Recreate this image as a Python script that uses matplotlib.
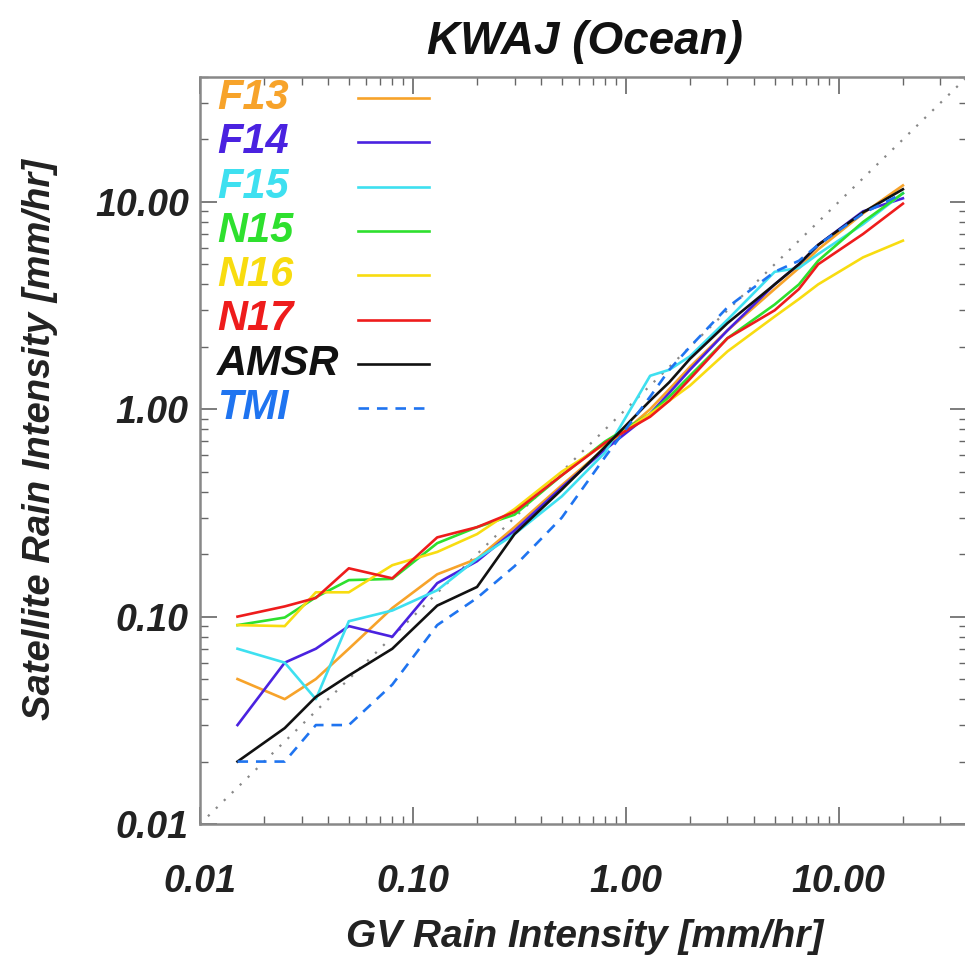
import matplotlib
matplotlib.use('Agg')
import matplotlib.pyplot as plt
from matplotlib.ticker import FixedLocator, LogLocator, NullFormatter, FuncFormatter

# GV rain intensity bins [mm/hr]
gv = [0.015, 0.025, 0.035, 0.05, 0.08, 0.13, 0.2, 0.3, 0.5, 0.8, 1.3, 1.6, 2, 3, 5, 6.5, 8, 13, 20]

# satellite rain intensity per sensor [mm/hr]
f13 = [0.05, 0.04, 0.05, 0.07, 0.11, 0.16, 0.19, 0.27, 0.43, 0.65, 1.0, 1.25, 1.6, 2.4, 3.8, 4.8, 5.9, 8.8, 12.0]
f14 = [0.03, 0.06, 0.07, 0.09, 0.08, 0.145, 0.185, 0.26, 0.42, 0.64, 0.95, 1.2, 1.55, 2.4, 4.0, 5.0, 6.2, 9.0, 10.4]
f15 = [0.07, 0.06, 0.04, 0.095, 0.107, 0.134, 0.19, 0.25, 0.38, 0.62, 1.45, 1.55, 1.8, 2.7, 4.6, 4.8, 5.6, 7.8, 11.0]
n15 = [0.091, 0.099, 0.124, 0.15, 0.152, 0.226, 0.27, 0.31, 0.48, 0.7, 0.95, 1.15, 1.45, 2.2, 3.2, 4.0, 5.2, 8.0, 11.0]
n16 = [0.091, 0.09, 0.131, 0.131, 0.177, 0.205, 0.25, 0.33, 0.5, 0.68, 0.95, 1.1, 1.3, 1.9, 2.8, 3.4, 4.0, 5.4, 6.5]
n17 = [0.10, 0.112, 0.123, 0.171, 0.153, 0.241, 0.27, 0.32, 0.48, 0.69, 0.92, 1.1, 1.4, 2.2, 3.0, 3.8, 5.0, 7.0, 9.8]
amsr = [0.02, 0.029, 0.041, 0.052, 0.07, 0.113, 0.139, 0.25, 0.41, 0.66, 1.1, 1.35, 1.75, 2.6, 4.0, 5.0, 6.2, 8.9, 11.5]
tmi = [0.02, 0.02, 0.03, 0.03, 0.047, 0.091, 0.123, 0.175, 0.3, 0.59, 1.15, 1.55, 2.0, 3.1, 4.6, 5.2, 6.2, 8.8, 11.0]

names = ['F13', 'F14', 'F15', 'N15', 'N16', 'N17', 'AMSR', 'TMI']
series = [f13, f14, f15, n15, n16, n17, amsr, tmi]
colors = ['#f7a32a', '#4a22e0', '#3ee0f0', '#2ee02e', '#f8dc10', '#ee1c1c', '#111111', '#1f74f0']
styles = ['-', '-', '-', '-', '-', '-', '-', (0, (4, 3))]

lims = [0.01, 40]
ticks = [0.01, 0.1, 1, 10]

font = dict(family='Liberation Sans', weight='bold', style='italic')

fig = plt.figure(figsize=(9.65, 9.59), dpi=100)
ax = fig.add_axes([200/965, 135/959, 767/965, 747/959])
ax.set_xscale('log')
ax.set_yscale('log')
ax.set_xlim(lims)
ax.set_ylim(lims)

# 1:1 line
ax.plot(lims, lims, color='#888888', lw=1.6, linestyle=(0, (1, 4)))

for s, c, ls in zip(series, colors, styles):
    ax.plot(gv, s, color=c, lw=1.9, linestyle=ls)

# legend: names left, line samples on the right
for i, (nm, c, ls) in enumerate(zip(names, colors, styles)):
    yy = (824 - 98 - i * 44.3) / 747
    ax.text(0.022, yy, nm, color=c, fontsize=30, va='center', ha='left',
            transform=ax.transAxes, **font)
    ax.plot([0.206, 0.299], [yy, yy], color=c, lw=1.9, linestyle=ls,
            transform=ax.transAxes)

for axis in (ax.xaxis, ax.yaxis):
    axis.set_major_locator(FixedLocator(ticks))
    axis.set_minor_locator(LogLocator(base=10, subs=range(2, 10)))
    axis.set_minor_formatter(NullFormatter())
    axis.set_major_formatter(FuncFormatter(lambda v, p: '%.2f' % v))

ax.tick_params(which='both', direction='in', top=True, right=True, color='#666666')
ax.tick_params(which='major', length=12, width=1.2)
ax.tick_params(which='minor', length=6, width=1.0)
ax.tick_params(axis='x', which='major', pad=29)
ax.tick_params(axis='y', which='major', pad=8)
for lab in ax.get_xticklabels() + ax.get_yticklabels():
    lab.set_fontsize(27)
    lab.set_fontfamily('Liberation Sans')
    lab.set_fontweight('bold')
    lab.set_fontstyle('italic')
    lab.set_color('#222222')
for sp in ax.spines.values():
    sp.set_color('#888888')
    sp.set_linewidth(1.8)

fig.text(585/965, 1 - 42/959, 'KWAJ (Ocean)', fontsize=33, ha='center', va='center',
         color='#111111', **font)
fig.text(585/965, 1 - 937/959, 'GV Rain Intensity [mm/hr]', fontsize=28, ha='center',
         va='center', color='#222222', **font)
fig.text(40/965, 1 - 440/959, 'Satellite Rain Intensity [mm/hr]', fontsize=27.5, ha='center',
         va='center', rotation=90, color='#222222', **font)

fig.savefig('out.png', dpi=100)
